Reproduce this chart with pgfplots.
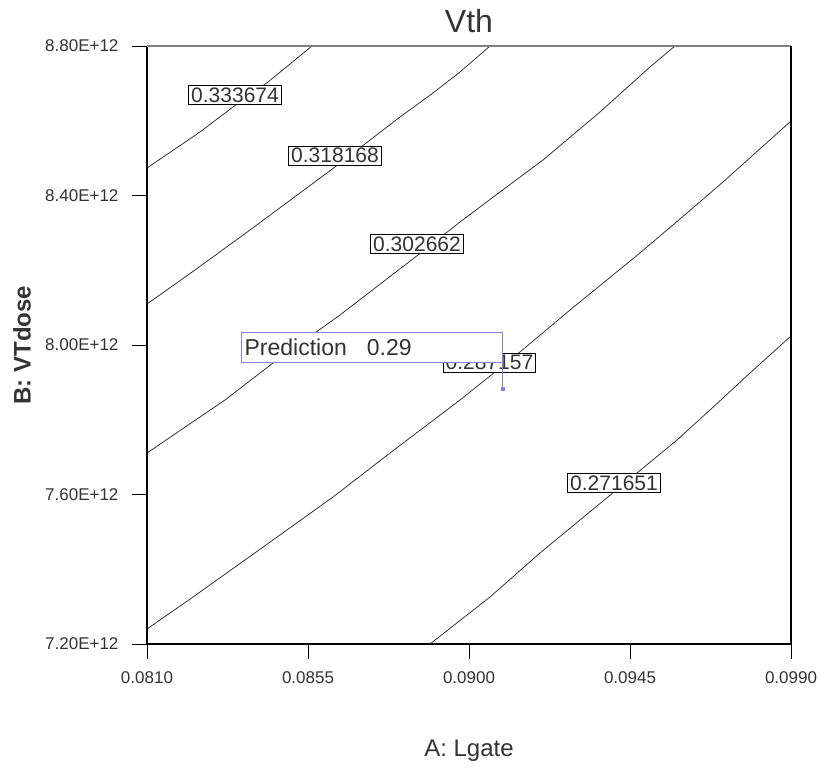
\documentclass[border=0pt]{standalone}
\usepackage{fontspec}
\setmainfont{Liberation Sans}
\usepackage{pgfplots}
\pgfplotsset{compat=1.18}

\definecolor{contourline}{HTML}{2A2A2A}
\definecolor{flagblue}{HTML}{8484E6}
\definecolor{labeltext}{HTML}{333333}

% boxed level label sitting on a contour line
\newcommand{\levellabel}[3]{%
  \node[draw=black, line width=0.8pt, fill=white, inner xsep=2.5pt, inner ysep=2pt,
        font=\fontsize{21}{24}\selectfont, text=labeltext] at (axis cs:#1,#2) {#3};}

\begin{document}
\begin{tikzpicture}
\begin{axis}[
  scale only axis, width=644pt, height=598pt,
  xmin=0.081, xmax=0.099, ymin=7.2e12, ymax=8.8e12,
  xtick={0.081,0.0855,0.09,0.0945,0.099},
  xticklabels={0.0810,0.0855,0.0900,0.0945,0.0990},
  ytick={7.2e12,7.6e12,8.0e12,8.4e12,8.8e12},
  yticklabels={7.20E+12,7.60E+12,8.00E+12,8.40E+12,8.80E+12},
  scaled x ticks=false, scaled y ticks=false,
  tick align=outside, xtick pos=bottom, ytick pos=left,
  major tick length=15pt,
  tick style={black, line width=0.9pt},
  axis line style={draw=none},
  ticklabel style={font=\fontsize{17}{20}\selectfont, text=labeltext},
  xticklabel style={yshift=-9pt},
  yticklabel style={xshift=-10pt},
  /pgf/number format/assume math mode=true,
  title={Vth},
  title style={font=\fontsize{32}{36}\selectfont, text=labeltext,
               at={(axis description cs:0.5,1.0318)}, anchor=center},
  xlabel={A: Lgate},
  xlabel style={font=\fontsize{24}{28}\selectfont, text=labeltext,
                at={(axis description cs:0.5,-0.1789)}, anchor=center},
  ylabel={B: VTdose},
  ylabel style={font=\bfseries\fontsize{24}{28}\selectfont, text=labeltext,
                at={(axis description cs:-0.1941,0.5)}, anchor=center},
  clip=false,
]
% contour lines of Vth
\addplot[contourline, line width=0.75pt] coordinates {
  (0.081,8.4736e12) (0.082481,8.5699e12) (0.083404,8.6368e12)
  (0.084382,8.7037e12) (0.085612,8.8e12)};
\addplot[contourline, line width=0.75pt] coordinates {
  (0.081,8.1097e12) (0.082342,8.2007e12) (0.083879,8.3077e12)
  (0.086255,8.4763e12) (0.088071,8.61e12) (0.088994,8.6742e12)
  (0.089748,8.7304e12) (0.090587,8.8e12)};
\addplot[contourline, line width=0.75pt] coordinates {
  (0.081,7.7110e12) (0.083180,7.8528e12) (0.084522,7.9518e12)
  (0.086394,8.0803e12) (0.088574,8.2408e12) (0.089748,8.3291e12)
  (0.090866,8.4094e12) (0.092068,8.4950e12) (0.093661,8.6234e12)
  (0.095059,8.7438e12) (0.095758,8.8e12)};
\addplot[contourline, line width=0.75pt] coordinates {
  (0.081,7.2401e12) (0.082286,7.3257e12) (0.084522,7.4783e12)
  (0.086199,7.5933e12) (0.087792,7.7110e12) (0.089748,7.8528e12)
  (0.091425,7.9813e12) (0.092823,8.0936e12) (0.094779,8.2462e12)
  (0.096093,8.3532e12) (0.097099,8.4361e12) (0.099,8.5993e12)};
\addplot[contourline, line width=0.75pt] coordinates {
  (0.088910,7.2e12) (0.090587,7.3257e12) (0.091984,7.4435e12)
  (0.095814,7.7458e12) (0.096736,7.8261e12) (0.097854,7.9251e12)
  (0.099,8.0241e12)};

% level labels
\levellabel{0.083460}{8.6689e12}{0.333674}
\levellabel{0.086255}{8.5070e12}{0.318168}
\levellabel{0.088547}{8.2702e12}{0.302662}
\levellabel{0.090573}{7.9532e12}{0.287157}
\levellabel{0.094053}{7.6308e12}{0.271651}

% prediction flag
\draw[flagblue, line width=1pt] (axis cs:0.09095,7.8823e12) -- (axis cs:0.09095,7.9518e12);
\addplot[flagblue, only marks, mark=square*, mark size=1.6pt] coordinates {(0.09095,7.8823e12)};
\node[draw=flagblue, line width=0.8pt, fill=white, anchor=south east,
      minimum height=30pt, text width=255pt, align=left, inner xsep=3pt, inner ysep=0pt,
      font=\fontsize{23}{26}\selectfont, text=labeltext]
  at (axis cs:0.09095,7.9518e12) {Prediction\hspace{20pt}0.29};

% frame
\draw[black, line width=1.1pt] (rel axis cs:0,1) -- (rel axis cs:0,0) -- (rel axis cs:1,0);
\draw[gray, line width=1.1pt] (rel axis cs:0,1) -- (rel axis cs:1,1);
\draw[black, line width=1.6pt] (rel axis cs:1,0) -- (rel axis cs:1,1);
\end{axis}
\path (-147pt,-130pt) rectangle (675pt,644pt);
\end{tikzpicture}
\end{document}
